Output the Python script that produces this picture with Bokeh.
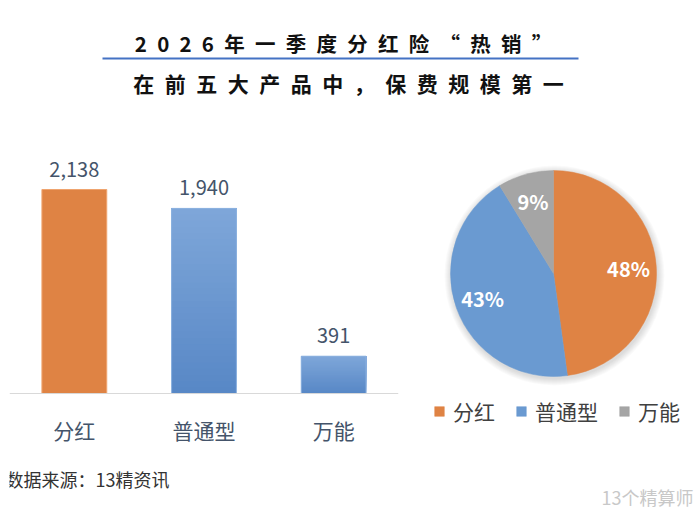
import numpy as np
from bokeh.plotting import figure
from bokeh.layouts import column, row
from bokeh.models import (Range1d, FactorRange, ColumnDataSource, LabelSet, Legend,
                          LegendItem, Label, Span)
from bokeh.core.properties import value
from bokeh.embed import file_html
from bokeh.resources import INLINE

# ---------------- data ----------------
categories = ["分红", "普通型", "万能"]
premiums = [2138, 1940, 391]
title_line1 = "2026年一季度分红险“热销”"
title_line2 = "在前五大产品中，保费规模第一"
source_text = "数据来源：13精资讯"
watermark_text = "13个精算师"

# ---------------- styles ----------------
FONT = "Noto Sans CJK SC"
ORANGE = "#DF8344"
BLUE_TOP = (0x7E, 0xA6, 0xD9)
BLUE_BOTTOM = (0x58, 0x88, 0xC6)
PIE_COLORS = ["#DF8344", "#6A9AD1", "#A5A5A5"]
TEXT_SLATE = "#44546A"


def blank_fig(w, h, xr, yr, **kw):
    opts = dict(min_border=0)
    opts.update(kw)
    f = figure(width=w, height=h, x_range=xr, y_range=yr, output_backend="svg",
               toolbar_location=None, x_axis_location=None, y_axis_location=None,
               **opts)
    f.grid.visible = False
    f.outline_line_color = None
    return f


# ---------------- title ----------------
top = blank_fig(700, 110, Range1d(9, 700), Range1d(110, 0), min_border_left=9)
sp = "\u2002"
top.add_layout(Label(x=343, y=42, text=sp.join(title_line1), text_align="center",
                     text_baseline="middle", text_font=FONT, text_font_size="20.5px",
                     text_font_style="bold", text_color="#111111"))
top.segment(x0=[102], y0=[58], x1=[578], y1=[58], line_color="#4472C4", line_width=2)
top.add_layout(Label(x=348, y=82, text=sp.join(title_line2), text_align="center",
                     text_baseline="middle", text_font=FONT, text_font_size="21px",
                     text_font_style="bold", text_color="#111111"))

# ---------------- bar chart ----------------
bar = blank_fig(400, 340, FactorRange(factors=categories), Range1d(-597, 2966),
                min_border_left=9, min_border_right=2)

# baseline
bar.add_layout(Span(location=0, dimension="width", line_color="#D9D9D9", line_width=1))

# orange bar (solid)
bar.vbar(x=[categories[0]], top=[premiums[0]], width=0.5, fill_color=ORANGE,
         line_color="#EFA46F", line_width=1)

# blue bars with vertical gradient
n = 30
for cat, v in zip(categories[1:], premiums[1:]):
    xs, bots, tops, cols = [], [], [], []
    for i in range(n):
        t = i / (n - 1)
        c = tuple(int(round(BLUE_BOTTOM[k] + (BLUE_TOP[k] - BLUE_BOTTOM[k]) * t)) for k in range(3))
        xs.append(cat)
        bots.append(v * i / n)
        tops.append(v)
        cols.append("#%02x%02x%02x" % c)
    bar.vbar(x=xs, bottom=bots, top=tops, width=0.5, fill_color=cols, line_color=None)
    bar.vbar(x=[cat], top=[v], width=0.5, fill_color=None, line_color="#8DB2E0", line_width=1)

lbl_src = ColumnDataSource(dict(x=categories, y=premiums, base=[0] * len(categories),
                                text=[f"{v:,}" for v in premiums], cat=categories))
bar.add_layout(LabelSet(x="x", y="y", text="text", source=lbl_src, text_align="center",
                        text_baseline="bottom", y_offset=13, text_font=value(FONT),
                        text_font_size="20px", text_color=TEXT_SLATE))
# category labels under the baseline
bar.add_layout(LabelSet(x="x", y="base", text="cat", source=lbl_src, text_align="center",
                        text_baseline="middle", y_offset=-36, text_font=value(FONT),
                        text_font_size="21px", text_color=TEXT_SLATE))

# ---------------- pie chart ----------------
pie = blank_fig(300, 340, Range1d(-153, 147), Range1d(-177, 163))
R = 103
total = sum(premiums)
fracs = [v / total for v in premiums]
cum = np.cumsum([0] + fracs)
starts = [np.pi / 2 - 2 * np.pi * cum[i] for i in range(len(fracs))]
ends = [np.pi / 2 - 2 * np.pi * cum[i + 1] for i in range(len(fracs))]
mids = [(s + e) / 2 for s, e in zip(starts, ends)]

# soft shadow
for k in range(1, 8):
    pie.circle(x=[1], y=[-2], radius=R + k, fill_color="#000000", fill_alpha=0.018,
               line_color=None)

pie_src = ColumnDataSource(dict(start=starts, end=ends, color=PIE_COLORS, label=categories))
wr = pie.wedge(x=0, y=0, radius=R, start_angle="start", end_angle="end", direction="clock",
               fill_color="color", line_color="color", line_width=0.5, source=pie_src)

pct_src = ColumnDataSource(dict(
    x=[0.73 * R * np.cos(m) for m in mids],
    y=[0.73 * R * np.sin(m) for m in mids],
    text=[f"{round(f * 100)}%" for f in fracs]))
pie.text(x="x", y="y", text="text", source=pct_src, text_align="center",
         text_baseline="middle", text_font=value(FONT), text_font_size="20px",
         text_font_style="bold", text_color="white")

legend = Legend(items=[LegendItem(label=c, renderers=[wr], index=i)
                       for i, c in enumerate(categories)],
                orientation="horizontal", location=(33, 24), glyph_width=12,
                glyph_height=12, label_standoff=8, spacing=20, padding=0, margin=0,
                border_line_color=None, background_fill_alpha=0,
                label_text_font=FONT, label_text_font_size="21px",
                label_text_color="#404040", label_height=20)
pie.add_layout(legend, "center")

# ---------------- footer ----------------
foot = blank_fig(700, 64, Range1d(9, 700), Range1d(64, 0), min_border_left=9)
foot.add_layout(Label(x=5, y=28, text=source_text, text_align="left", text_baseline="middle",
                      text_font=FONT, text_font_size="18px", text_color="#333333"))
foot.add_layout(Label(x=693, y=46, text=watermark_text, text_align="right",
                      text_baseline="middle", text_font=FONT, text_font_size="18px",
                      text_color="#C8C8C8"))

layout = column(top, row(bar, pie), foot)
open("out.html", "w").write(file_html(layout, INLINE))
